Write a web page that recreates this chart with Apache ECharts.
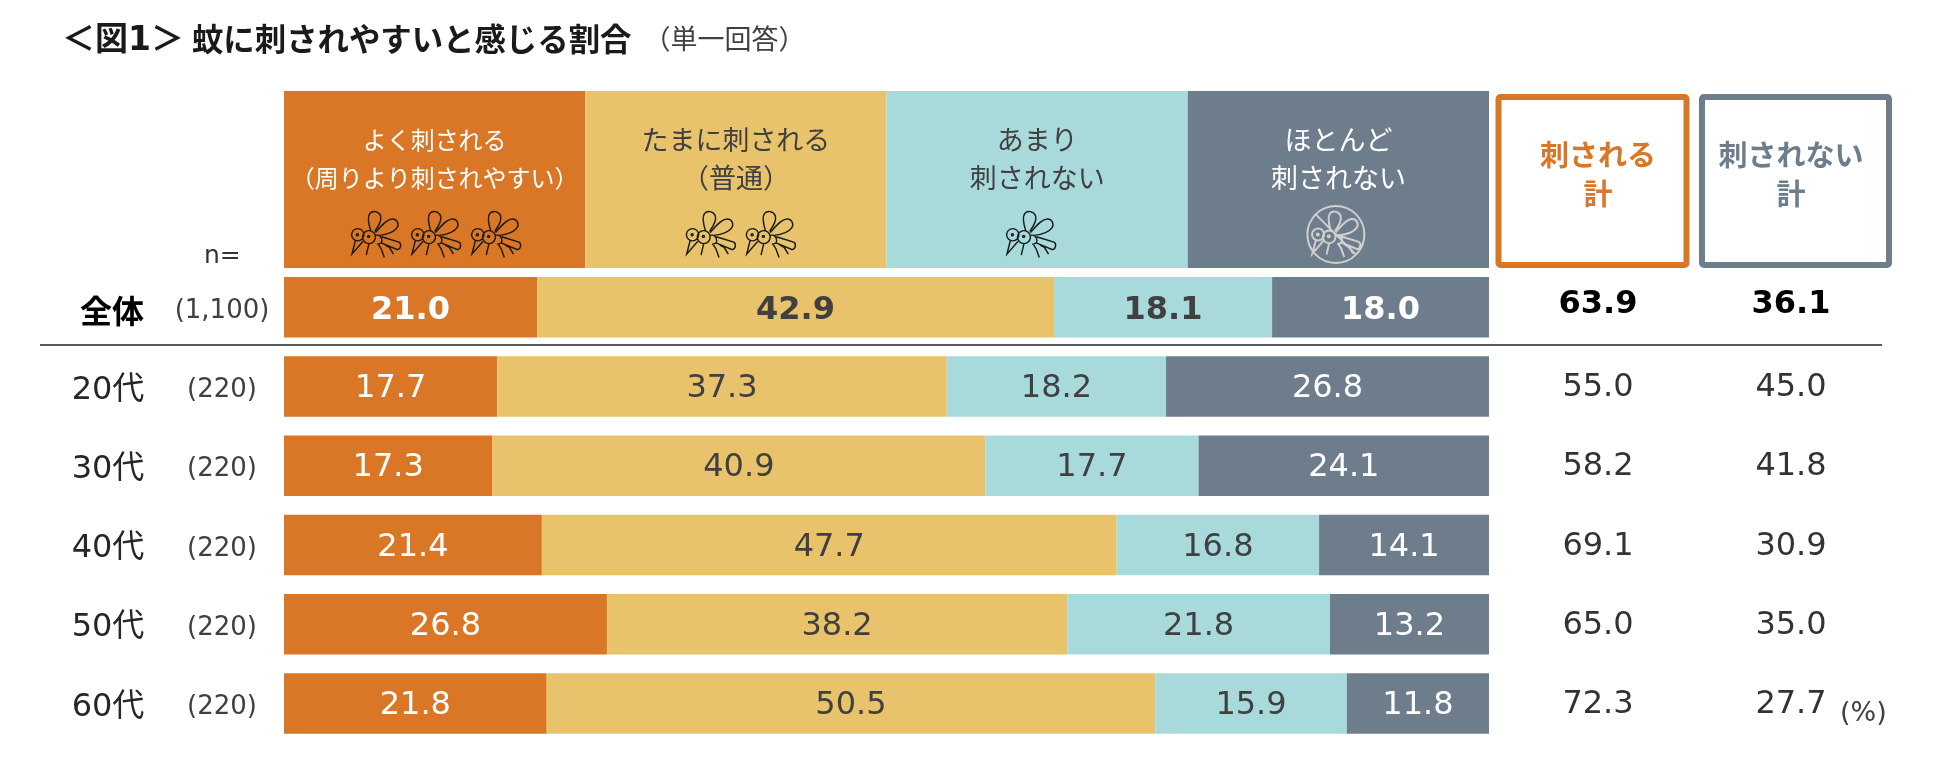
<!DOCTYPE html>
<html><head><meta charset="utf-8">
<style>html,body{margin:0;padding:0;background:#fff}#c{width:1950px;height:778px}</style>
<script src="https://cdn.jsdelivr.net/npm/echarts@6/dist/echarts.min.js"></script></head>
<body><div id="c"></div>
<script>
const categories = ['全体','20代','30代','40代','50代','60代'];
const sampleSizes = ['(1,100)','(220)','(220)','(220)','(220)','(220)'];
const often  = [21.0,17.7,17.3,21.4,26.8,21.8];
const sometimes = [42.9,37.3,40.9,47.7,38.2,50.5];
const rarely = [18.1,18.2,17.7,16.8,21.8,15.9];
const almostNever = [18.0,26.8,24.1,14.1,13.2,11.8];
const totalBitten = [63.9,55.0,58.2,69.1,65.0,72.3];
const totalNotBitten = [36.1,45.0,41.8,30.9,35.0,27.7];
const headerLabels = ['よく刺される\n（周りより刺されやすい）','たまに刺される\n（普通）','あまり\n刺されない','ほとんど\n刺されない'];
const headerShares = [25,25,25,25];
const iconCounts = [3,2,1,1];
const iconNudge = [1.5,5,-6,-2.5];
const totalColumns = ['刺される\n計','刺されない\n計'];
const seriesColors = ['#D97726','#E8C36B','#A8DADC','#6D7D8C'];
const labelColors = ['#FFFFFF','#404040','#404040','#FFFFFF'];
const FONT = '"DejaVu Sans","Noto Sans CJK JP",sans-serif';
const JP = '"Noto Sans CJK JP",sans-serif';

const mosquito = 'M39 98a18 18 0 1 0 36 0a18 18 0 1 0 -36 0Z M71 105a19 19 0 1 0 38 0a19 19 0 1 0 -38 0Z '+
 'M53 98a3 3 0 1 0 6 0a3 3 0 1 0 -6 0Z M86 103a3 3 0 1 0 6 0a3 3 0 1 0 -6 0Z '+
 'M95 86C90 70 84 48 92 36C100 26 118 28 124 42C128 56 116 76 107 88 '+
 'M109 92C124 74 140 54 156 52C172 50 180 66 172 78C162 92 138 98 120 100 '+
 'M109 100C120 96 128 106 128 116C128 122 122 126 114 126 '+
 'M127 104L178 120C186 124 184 140 174 142L126 122 '+
 'M50 115L40 155L72 118 M90 124L82 158 M118 127L126 140L135 165 M136 128L150 135L162 155';
const banned = 'M25 98a85 85 0 1 0 170 0a85 85 0 1 0 -170 0Z M50 38L170 158 ' + mosquito;

const stackSeries = [often,sometimes,rarely,almostNever].map((vals,s)=>({
  type:'bar', stack:'main', xAxisIndex:0, yAxisIndex:0, barWidth:60.5,
  itemStyle:{color:seriesColors[s]},
  label:{show:true,position:'inside',offset:[0,2.5],color:labelColors[s],fontFamily:FONT,fontSize:32,formatter:p=>p.value.toFixed(1)},
  data:vals.map((v,i)=>i===0?{value:v,label:{fontWeight:'bold',offset:[0,3.5]}}:v)
}));
const headerSeries = headerShares.map((v,s)=>({
  type:'bar', stack:'head', xAxisIndex:1, yAxisIndex:1, barWidth:'100%',
  itemStyle:{color:seriesColors[s]},
  label:{show:true,position:'insideTop',distance:30,color:labelColors[s],fontFamily:JP,
    fontSize:s===0?24:27,lineHeight:38,align:'center',formatter:()=>headerLabels[s]},
  data:[v]
}));
const iconSeries = iconCounts.map((n,s)=>{
  const centre = headerShares.slice(0,s).reduce((a,b)=>a+b,0)+headerShares[s]/2;
  return Array.from({length:n},(_,k)=>({
    type:'scatter', xAxisIndex:1, yAxisIndex:1, z:5, silent:true,
    symbol:'path://'+(s===3?banned:mosquito),
    symbolSize:s===3?[57,57]:[49,46], symbolKeepAspect:false,
    symbolOffset:[(k-(n-1)/2)*60+iconNudge[s],55],
    itemStyle:{color:'rgba(0,0,0,0)',borderColor:s===3?'#CFCFCF':'#1A1A1A',borderWidth:s===3?2:1.4,opacity:1},
    data:[[centre,'h']]
  }));
}).flat();
const totalSeries = [totalBitten,totalNotBitten].map((vals,c)=>({
  type:'scatter', xAxisIndex:2, yAxisIndex:2, symbolSize:1, itemStyle:{opacity:0},
  label:{show:true,position:'inside',offset:[0,1.5],fontFamily:FONT,fontSize:32,color:'#333333',opacity:1,
    formatter:p=>p.value[2].toFixed(1)},
  data:vals.map((v,i)=>({value:[totalColumns[c],categories[i],v],
    label:i===0?{fontWeight:'bold',color:'#000000',offset:[0,-2]}:{}}))
}));
const boxes = [[1498.5,188,seriesColors[0],1598],[1702,187,seriesColors[3],1791]];

const chart = echarts.init(document.getElementById('c'),null,{renderer:'canvas'});
chart.setOption({
  animation:false, backgroundColor:'#fff',
  title:{left:62,top:20,padding:0,text:'{a|＜図1＞}{b|蚊に刺されやすいと感じる割合}{c|（単一回答）}',
    textStyle:{fontWeight:'normal',rich:{
      a:{fontFamily:FONT,fontWeight:'bold',fontSize:33,color:'#1A1A1A',padding:[5,8,0,0]},
      b:{fontFamily:JP,fontWeight:'bold',fontSize:31.4,color:'#1A1A1A'},
      c:{fontFamily:JP,fontWeight:'normal',fontSize:27,color:'#404040',padding:[0,0,0,12]}}}},
  grid:[
    {left:284,width:1205,top:267.5,height:475.5},
    {left:284,width:1205,top:91,height:177},
    {left:1501.5,width:386,top:267.5,height:475.5}
  ],
  xAxis:[
    {type:'value',gridIndex:0,min:0,max:100,show:false},
    {type:'value',gridIndex:1,min:0,max:100,show:false},
    {type:'category',gridIndex:2,data:totalColumns,show:false}
  ],
  yAxis:[
    {type:'category',gridIndex:0,inverse:true,data:categories,
      axisLine:{show:false},axisTick:{show:false},splitLine:{show:false},
      axisLabel:{margin:0,padding:[8,0,0,0],formatter:(v,i)=>i===0?`{ab|${v}}{n|${sampleSizes[i]}}`:`{a|${v}}{n|${sampleSizes[i]}}`,
        rich:{
          a:{fontFamily:FONT,fontSize:32,color:'#262626',width:88,align:'right',padding:[0,8,0,0]},
          ab:{fontFamily:JP,fontWeight:'bold',fontSize:32,color:'#000',width:88,align:'right',padding:[0,4,0,0]},
          n:{fontFamily:FONT,fontSize:26,color:'#404040',width:124,align:'center'}}}},
    {type:'category',gridIndex:1,data:['h'],show:false},
    {type:'category',gridIndex:2,inverse:true,data:categories,show:false}
  ],
  series:[...headerSeries,...stackSeries,...iconSeries,...totalSeries],
  graphic:[
    {type:'line',silent:true,shape:{x1:40,y1:345,x2:1882,y2:345},style:{stroke:'#595959',lineWidth:2}},
    ...boxes.map(([x,w,col])=>({type:'rect',silent:true,shape:{x,y:97,width:w,height:168,r:2},
      style:{fill:'#fff',stroke:col,lineWidth:6}})),
    ...boxes.map(([x,w,col,cx],i)=>({type:'text',silent:true,x:cx,y:135,
      style:{text:totalColumns[i],fill:col,font:'bold 29px '+JP,align:'center',lineHeight:39}})),
    {type:'text',silent:true,x:204,y:244,style:{text:'n=',fill:'#333',font:'25px '+FONT}},
    {type:'text',silent:true,x:1840,y:700,style:{text:'(%)',fill:'#404040',font:'27px '+FONT}}
  ]
});
</script></body></html>
